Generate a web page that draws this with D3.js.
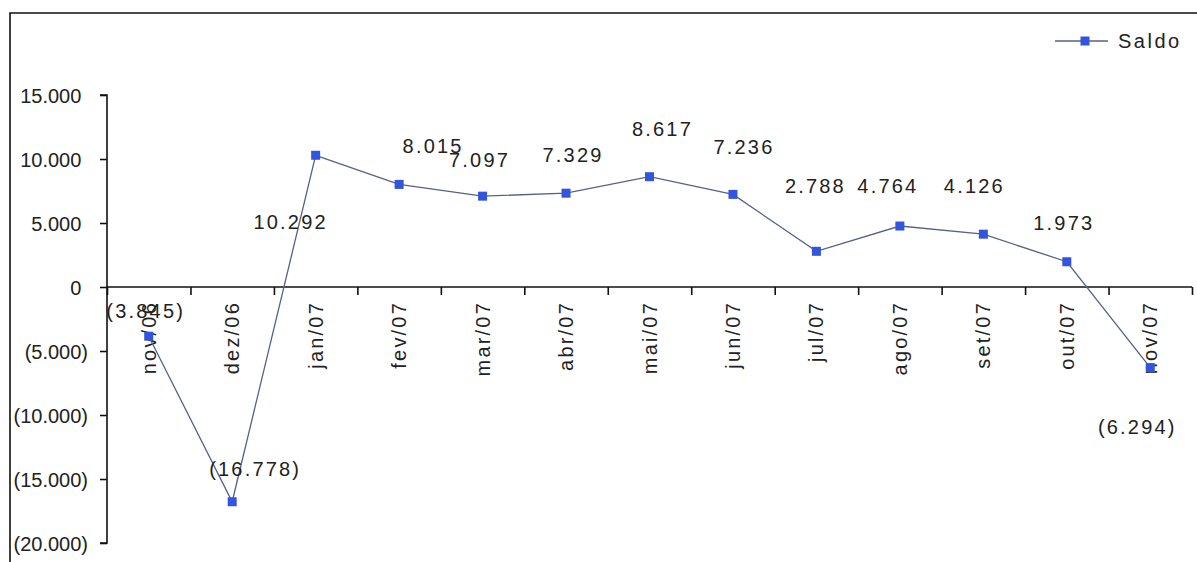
<!DOCTYPE html>
<html>
<head>
<meta charset="utf-8">
<script src="https://cdn.jsdelivr.net/npm/d3@7"></script>
<style>
  html, body { margin: 0; padding: 0; background: #fff; }
  svg { display: block; font-family: "Liberation Sans", Arial, sans-serif; }
</style>
</head>
<body>
<svg id="chart" width="1197" height="562"></svg>
<script>
// Monthly balance ("Saldo"), nov/06 – nov/07
const categories = ["nov/06", "dez/06", "jan/07", "fev/07", "mar/07", "abr/07", "mai/07",
                    "jun/07", "jul/07", "ago/07", "set/07", "out/07", "nov/07"];
const saldo = [-3845, -16778, 10292, 8015, 7097, 7329, 8617, 7236, 2788, 4764, 4126, 1973, -6294];
const yTicks = [15000, 10000, 5000, 0, -5000, -10000, -15000, -20000];
const seriesName = "Saldo";

// Hand-placed label offsets (px) relative to each marker
const labelDx = [-3, 23, -25, 34, -3, 7, 13, 11, -1, -12, -9, -3, -13];
const labelDy = [-25, -33, 67, -38, -36, -38, -48, -47, -65, -40, -48, -39, 59];

const W = 1197, H = 562;
const plot = { left: 107, right: 1192, top: 95, bottom: 543 };

const svg = d3.select("#chart");

// pt-BR style number formatting, negatives in parentheses
const locale = d3.formatLocale({ decimal: ",", thousands: ".", grouping: [3], currency: ["R$", ""] });
const fmtInt = locale.format(",d");
const fmt = v => v < 0 ? "(" + fmtInt(-v) + ")" : fmtInt(v);

const x = d3.scaleBand().domain(categories).range([plot.left, plot.right]).paddingInner(0).paddingOuter(0);
const xEdge = d3.scaleLinear().domain([0, categories.length]).range([plot.left, plot.right]);
const y = d3.scaleLinear().domain([-20000, 15000]).range([plot.bottom, plot.top]);

// Outer frame (top and left edges visible)
svg.append("path")
  .attr("d", `M${10},${H} L${10},${13} L${W},${13}`)
  .attr("fill", "none").attr("stroke", "#111").attr("stroke-width", 1.6);

// Y axis
const yAxis = d3.axisLeft(y).tickValues(yTicks).tickSize(7).tickPadding(0).tickFormat(fmt);
const gy = svg.append("g").attr("transform", `translate(${plot.left},0)`).call(yAxis);
gy.select(".domain").attr("stroke", "#111").attr("stroke-width", 1.6).attr("d", `M-7,${plot.top}H0V${plot.bottom}H-7`);
gy.selectAll(".tick line").attr("stroke", "#111").attr("stroke-width", 1.6);
const parenW = 6.7;
gy.selectAll(".tick text")
  .attr("font-size", 20)
  .attr("fill", "#222")
  .attr("font-family", "'Liberation Sans', Arial, sans-serif")
  .attr("x", d => d < 0 ? -19 : -19 - parenW)
  .attr("dy", "0.35em");

// X axis line with ticks at category boundaries
const xAxis = d3.axisBottom(xEdge).tickValues(d3.range(0, categories.length + 1)).tickSize(8).tickFormat("");
const gx = svg.append("g").attr("transform", `translate(0,${y(0)})`).call(xAxis);
gx.select(".domain").attr("stroke", "#111").attr("stroke-width", 1.6).attr("d", `M${plot.left},0H${plot.right}`);
gx.selectAll(".tick line").attr("stroke", "#111").attr("stroke-width", 1.6);

// Category labels, rotated, hanging under the axis
svg.append("g").selectAll("text")
  .data(categories)
  .join("text")
  .attr("transform", d => `translate(${x(d) + x.bandwidth() / 2},${y(0) + 14}) rotate(-90)`)
  .attr("text-anchor", "end")
  .attr("dy", "0.35em")
  .attr("font-size", 20)
  .attr("letter-spacing", 2.2)
  .attr("fill", "#222")
  .text(d => d);

// Series line
const cx = (d, i) => x(categories[i]) + x.bandwidth() / 2;
const line = d3.line().x((d, i) => cx(d, i)).y(d => y(d));
svg.append("path")
  .datum(saldo)
  .attr("d", line)
  .attr("fill", "none")
  .attr("stroke", "#56618a")
  .attr("stroke-width", 1.3);

// Markers
const ms = 9;
svg.append("g").selectAll("rect")
  .data(saldo)
  .join("rect")
  .attr("x", (d, i) => cx(d, i) - ms / 2)
  .attr("y", d => y(d) - ms / 2)
  .attr("width", ms).attr("height", ms)
  .attr("fill", "#3355dd");

// Data labels
svg.append("g").selectAll("text")
  .data(saldo)
  .join("text")
  .attr("x", (d, i) => cx(d, i) + labelDx[i])
  .attr("y", (d, i) => y(d) + labelDy[i])
  .attr("text-anchor", "middle")
  .attr("dy", "0.35em")
  .attr("font-size", 20)
  .attr("letter-spacing", 2.2)
  .attr("fill", "#222")
  .text(d => fmt(d));

// Legend
const lg = svg.append("g").attr("transform", "translate(1055,41)");
lg.append("line").attr("x1", 0).attr("x2", 53).attr("y1", 0).attr("y2", 0)
  .attr("stroke", "#56618a").attr("stroke-width", 1.3);
lg.append("rect").attr("x", 30 - ms / 2).attr("y", -ms / 2).attr("width", ms).attr("height", ms)
  .attr("fill", "#3355dd");
lg.append("text").attr("x", 63).attr("y", 0).attr("dy", "0.35em")
  .attr("font-size", 20).attr("letter-spacing", 2.5).attr("fill", "#222")
  .text(seriesName);
</script>
</body>
</html>
